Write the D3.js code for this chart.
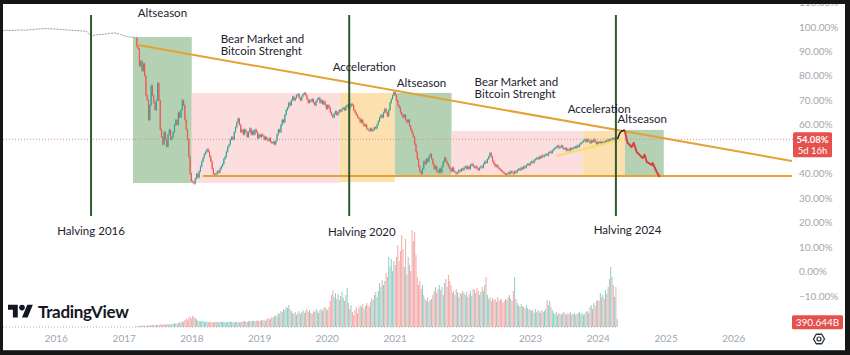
<!DOCTYPE html>
<html><head><meta charset="utf-8">
<script src="https://cdn.jsdelivr.net/npm/d3@7"></script>
<style>
html,body{margin:0;padding:0;background:#161616;}
svg{display:block;}
text{font-family:Lato,"Noto Sans",sans-serif;}
</style></head><body>
<svg id="c" width="850" height="355"></svg>
<script>
// ---------------- DATA ----------------
// early (pre-2017) dominance line
const earlyDates = ["2015-03-20","2015-04-15","2015-05-15","2015-06-15","2015-07-15","2015-08-15","2015-09-15","2015-10-15","2015-11-15","2015-12-15","2016-01-15","2016-02-15","2016-03-15","2016-04-15","2016-05-15","2016-06-15","2016-07-09","2016-08-15","2016-09-15","2016-10-15","2016-11-15","2016-12-15","2017-01-15","2017-02-15","2017-03-06"];
const earlyValues = [98.4,98.6,98.5,98.7,98.6,98.8,99.0,99.2,99.3,99.1,99.0,98.8,98.6,98.5,98.3,98.2,96.3,96.8,96.9,97.3,97.5,96.9,96.0,95.8,95.5];

// weekly candles, starting week
const candleStart = "2017-03-13";
const closes2017 = [92,91,84,86,82,85,80,72,70,62,68,76,72,69,66,70,77,70,58,55,52,57,54,51,56,58,54,55,57,60,62,60,65,63,66,70,68,62,58,54,47,40,37,36.5];
const closes2018 = [36,38,40,38.5,41,43,45,46.5,48,49,50,49,47,45,42,40,39.5,40,41,40.5,42,43,44,46,47,49,51,52,54,55,54,57,59,61,62.5,60,57,58,56,58,57,55,57,58.5,56,57.5,56,58,57,54.5,56,55,56];
const closes2019 = [55.5,54,55,54,53.5,54.5,53,52.5,53,52,53.5,56,58,57,60,62,61,64,66,67,69,68,70,71.5,70,71,72,72.5,71,70,71.5,72.5,73,72,70.5,69,70,69.5,70.5,69,68,69.5,70.5,71,69,70,68.5,69.5,68,66.5,68];
const closes2020 = [67,65,64,63,64.5,65.5,64,65,66,65.5,66.5,67,66,67.5,68,66.5,67.5,68.5,68,66,65,64,63,62.5,61,62,60.5,59.5,60,58.5,58,57.5,58.5,57.5,58,59,58.5,60,61.5,63,64,63,65,66.5,65,63.5,66,69,70.5,72,73.5,72];
const closes2021 = [70,68,67,65,64,63,64,62,61,62,59.5,58,56.5,55,52,49,46,43,41,40,42,45,44,46,45,47,48,46,44,42,43,41,40.5,42,40.5,43,45,46.5,45,44,43,42,41,42.5,41,40.5,40,40.5,41.5,41,42,41.5];
const closes2022 = [42.5,43,42,43,42,43.5,44,43,42.5,43,42,41.5,42.5,43,42.5,44,45,44.5,46,47,48.5,47,45,44,43,43.5,42.5,42,41.5,41,40.5,40,39.5,40,40.5,40,41,40.5,40,41,40.5,41.5,42,41.5,42.5,42,43,42.5,43.5,44,43.5,44.5];
const closes2023 = [45,44.5,45.5,46,46.5,46,47,46.5,47.5,47,47.5,48,47.5,48.5,49,48.5,49.5,50,50.5,51,51.5,50.5,51,51.5,50.5,50,50.5,49.5,50,49.5,50.5,50,50.5,51,50.5,51.5,51,52,52.5,53,53.5,54,53,54,53.5,52.5,53.5,53,54,53,52,53];
const closes2024 = [52.5,53,52,53,52.5,53.5,53,54,53.5,54,54.5,54,54.5,54,54.08];

// weekly volume (billions)
const vol2017 = [40,45,50,60,55,70,60,75,80,70,85,90,110,95,90,120,100,95,130,120,110,140,135,120,150,140,130,160,150,190,170,160,200,240,210,300,260,350,420,330,480,520,430,560];
const vol2018 = [500,440,380,330,300,280,310,290,260,250,270,240,260,250,230,240,250,260,240,230,250,270,260,240,250,230,240,260,280,250,240,230,250,260,240,230,250,260,280,300,270,260,290,310,280,300,320,290,310,330,300,320,340];
const vol2019 = [320,360,300,400,450,380,420,500,460,550,600,520,700,650,800,750,900,850,1000,950,1100,900,800,700,650,750,600,700,800,650,750,850,700,800,900,750,850,700,650,800,750,900,800,700,850,900,800,950,1000,900,850];
const vol2020 = [1000,1300,1600,1850,1500,1700,1400,1650,1350,1550,1750,1450,1300,1600,1950,1200,900,1100,750,600,850,1000,700,950,1100,1000,1150,900,1050,1200,1100,1000,1250,1450,1350,1600,1750,1500,1800,2200,2000,2350,2100,2300,2700,2500,3500,3000,3400,2800,3300,3100];
const vol2021 = [3500,4100,3300,3800,4600,3900,3000,4400,2600,3500,3100,2800,4850,4300,4750,3600,2500,2100,2300,1900,2100,1600,1400,1300,1500,1250,1350,1400,1600,1800,2000,1700,1900,2100,1850,2000,1600,2200,2400,2000,2600,2300,2100,1700,1800,1600,1900,1750,1500,1700,1650,1800];
const vol2022 = [1700,1600,1750,1500,1650,1800,1550,1900,1850,1700,1950,1800,1600,1750,2000,1800,2100,2500,1600,1400,1500,1300,1450,1350,1400,1250,1500,1300,1400,1350,1200,1300,1400,1350,1500,1600,1400,1300,1800,2500,1400,1200,1100,1000,1150,1050,1000,900,1100,950,850,900];
const vol2023 = [800,850,700,900,750,850,800,700,850,750,800,900,1350,1100,1300,1000,850,700,650,750,600,700,650,600,700,750,650,600,700,650,750,600,650,700,600,650,700,750,650,700,600,650,750,800,700,1000,1100,900,1200,1050,1300,1350];
const vol2024 = [1300,1700,1500,1600,1400,1850,1650,2000,2400,3000,2500,2100,1500,2000,390.644];

// zones
const zoneKind  = ["alt","bear","accel","alt","bear","accel","alt"];
const zoneStart = ["2017-02-20","2018-01-03","2020-03-11","2021-01-02","2021-11-04","2023-10-12","2024-05-26"];
const zoneEnd   = ["2018-01-03","2020-03-11","2021-01-02","2021-11-04","2023-10-12","2024-05-26","2024-12-22"];
const zoneTop   = [95.8,73.0,73.0,73.0,57.5,57.5,57.9];
const zoneBottom= [36.2,36.2,36.6,39.5,38.7,38.7,39.1];

// drawn lines
const resistDates = ["2017-03-18","2026-11-13"], resistValues = [92.6,45.2];
const supportDates = ["2018-03-04","2026-11-13"], supportValues = [39.1,39.1];
const wedgeDates = ["2023-05-22","2024-05-12"], wedgeValues = [47.2,54.1];
const projDates = ["2024-05-26","2024-06-10","2024-07-02","2024-07-13","2024-07-29","2024-08-14","2024-08-30","2024-09-10","2024-09-21","2024-10-18","2024-10-23","2024-11-14","2024-11-30"];
const projValues = [57.4,52.6,50.9,52.6,48.9,47.7,46.4,47.7,44.8,43.6,44.4,40.7,38.7];
const arrowDates = ["2024-04-17","2024-05-03","2024-05-26"], arrowValues = [54.2,57.0,57.9];

// halvings (as drawn on the chart)
const halvingDates = ["2016-07-09","2020-05-01","2024-04-08"];
const halvingLabels = ["Halving 2016","Halving 2020","Halving 2024"];
const halvingLabelDates = ["2016-07-09","2020-07-08","2024-06-10"];
const halvingLabelValues = [15.0,14.6,15.4];

// annotations (multi-line notes separated by "|")
const noteText  = ["Altseason","Bear Market and|Bitcoin Strenght","Acceleration","Altseason","Bear Market and|Bitcoin Strenght","Acceleration","Altseason"];
const noteDates = ["2017-03-18","2018-06-08","2020-02-02","2021-01-13","2022-03-08","2023-07-23","2024-04-17"];
const noteValues= [104.0,93.4,81.9,75.4,75.8,64.8,60.7];

// axes
const priceTicks = [-10,0,10,20,30,40,60,70,80,90,100,110];
const yearTicks = [2016,2017,2018,2019,2020,2021,2022,2023,2024,2025,2026];
const lastPrice = 54.08, countdown = "5d 16h", lastVolume = "390.644B";

// ---------------- CHART ----------------
const parse = d3.utcParse("%Y-%m-%d");
const svg = d3.select("#c");
const W = 850, H = 355;
const plotL = 3, plotR = 795, plotT = 4, plotB = 350;

const x = d3.scaleUtc().domain([new Date(Date.UTC(2016,0,1)), new Date(Date.UTC(2026,0,1))]).range([55.8, 733.3]);
const y = d3.scaleLinear().domain([0,100]).range([271.7, 26.8]);
const yv = d3.scaleLinear().domain([0,5000]).range([327, 227]);

svg.append("rect").attr("width",W).attr("height",H).attr("fill","#161616");
svg.append("rect").attr("x",plotL).attr("y",plotT).attr("width",845-plotL).attr("height",plotB-plotT).attr("fill","#ffffff");

svg.append("clipPath").attr("id","clip").append("rect")
  .attr("x",plotL).attr("y",plotT).attr("width",plotR-plotL).attr("height",plotB-plotT);
const g = svg.append("g").attr("clip-path","url(#clip)");

const zoneColor = {alt:"#b5d1b3", bear:"#fcdede", accel:"#fde0b0"};
g.selectAll("rect.zone").data(zoneKind.map((k,i)=>({k,s:parse(zoneStart[i]),e:parse(zoneEnd[i]),t:zoneTop[i],b:zoneBottom[i]})))
  .join("rect").attr("class","zone")
  .attr("x",d=>x(d.s)).attr("width",d=>x(d.e)-x(d.s))
  .attr("y",d=>y(d.t)).attr("height",d=>y(d.b)-y(d.t))
  .attr("fill",d=>zoneColor[d.k]);

// current price dotted line
g.append("line").attr("x1",plotL).attr("x2",plotR).attr("y1",y(lastPrice)).attr("y2",y(lastPrice))
  .attr("stroke","#d98c8c").attr("stroke-width",1).attr("stroke-dasharray","1,2");

// candles data
const closes = [].concat(closes2017,closes2018,closes2019,closes2020,closes2021,closes2022,closes2023,closes2024);
const vols = [].concat(vol2017,vol2018,vol2019,vol2020,vol2021,vol2022,vol2023,vol2024);
const start = parse(candleStart);
const candles = closes.map((c,i)=>{
  const o = i===0 ? earlyValues[earlyValues.length-1] : closes[i-1];
  return {d:d3.utcDay.offset(start,7*i), o, c, v:vols[i]};
});

// volume baseline
g.append("line").attr("x1",plotL).attr("x2",x(candles[candles.length-1].d)).attr("y1",yv(0)).attr("y2",yv(0))
  .attr("stroke","#b0b0b0").attr("stroke-dasharray","1,2");

g.selectAll("rect.vol").data(candles).join("rect").attr("class","vol")
  .attr("x",d=>x(d.d)-0.5).attr("width",1)
  .attr("y",d=>yv(d.v)).attr("height",d=>yv(0)-yv(d.v))
  .attr("fill",d=>d.c>=d.o?"#8fcfc8":"#f2a9a7");

// early line
const early = earlyDates.map((d,i)=>({d:parse(d),v:earlyValues[i]}));
g.append("path").datum(early)
  .attr("d",d3.line().x(d=>x(d.d)).y(d=>y(d.v)))
  .attr("fill","none").attr("stroke","#9a9a9a")
  .attr("stroke-width",1).attr("stroke-dasharray","2,1");

// candles
g.selectAll("line.wick").data(candles).join("line").attr("class","wick")
  .attr("x1",d=>x(d.d)).attr("x2",d=>x(d.d))
  .attr("y1",d=>y(Math.max(d.o,d.c))-1).attr("y2",d=>y(Math.min(d.o,d.c))+1)
  .attr("stroke",d=>d.c>=d.o?"#26a69a":"#ef5350").attr("stroke-width",0.6);
g.selectAll("rect.body").data(candles).join("rect").attr("class","body")
  .attr("x",d=>x(d.d)-0.55).attr("width",1.1)
  .attr("y",d=>y(Math.max(d.o,d.c)))
  .attr("height",d=>Math.max(0.8, Math.abs(y(d.o)-y(d.c))))
  .attr("fill",d=>d.c>=d.o?"#26a69a":"#ef5350");

// drawn lines
const ln = d3.line().x(d=>x(d.d)).y(d=>y(d.v));
const mk = (ds,vs)=>ds.map((d,i)=>({d:parse(d),v:vs[i]}));
g.append("path").datum(mk(wedgeDates,wedgeValues)).attr("d",ln)
  .attr("fill","none").attr("stroke","#f3df6e").attr("stroke-width",2.2);
g.append("path").datum(mk(resistDates,resistValues)).attr("d",ln)
  .attr("fill","none").attr("stroke","#e5a132").attr("stroke-width",2);
g.append("path").datum(mk(supportDates,supportValues)).attr("d",ln)
  .attr("fill","none").attr("stroke","#e5a132").attr("stroke-width",2);
g.append("path").datum(mk(projDates,projValues)).attr("d",ln)
  .attr("fill","none").attr("stroke","#d8403c").attr("stroke-width",2).attr("stroke-linejoin","round");
g.append("path").datum(mk(arrowDates,arrowValues))
  .attr("d",d3.line().x(d=>x(d.d)).y(d=>y(d.v)).curve(d3.curveNatural))
  .attr("fill","none").attr("stroke","#1a1a1a").attr("stroke-width",1.5);

// halving lines
g.selectAll("line.halv").data(halvingDates.map(parse)).join("line").attr("class","halv")
  .attr("x1",d=>x(d)).attr("x2",d=>x(d)).attr("y1",15).attr("y2",216)
  .attr("stroke","#2e5b2c").attr("stroke-width",2);

// annotations
const notes = g.selectAll("text.note").data(noteText.map((t,i)=>({t,d:parse(noteDates[i]),v:noteValues[i]})))
  .join("text").attr("class","note")
  .attr("x",d=>x(d.d)).attr("y",d=>y(d.v))
  .attr("font-size",11.5).attr("fill","#1e222d");
notes.selectAll("tspan").data(d=>d.t.split("|").map(s=>({s,xx:x(d.d)})))
  .join("tspan").attr("x",d=>d.xx).attr("dy",(d,i)=>i===0?0:12).text(d=>d.s);
g.selectAll("text.halvl").data(halvingLabels.map((t,i)=>({t,d:parse(halvingLabelDates[i]),v:halvingLabelValues[i]})))
  .join("text").attr("class","halvl")
  .attr("x",d=>x(d.d)).attr("y",d=>y(d.v)).attr("text-anchor","middle")
  .attr("font-size",11.5).attr("fill","#1e222d").text(d=>d.t);

// price axis
const fmt = d3.format(".2f");
const ya = svg.append("g").attr("transform","translate(799,0)")
  .call(d3.axisRight(y).tickValues(priceTicks).tickSize(0).tickPadding(0).tickFormat(d=>fmt(d)+"%"));
ya.select(".domain").remove();
ya.selectAll("text").attr("font-size",10).attr("fill","#a3a6ae").attr("font-family","Lato,sans-serif");

// time axis
const xa = svg.append("g").attr("transform","translate(0,335)")
  .call(d3.axisBottom(x).tickValues(yearTicks.map(yr=>new Date(Date.UTC(yr,0,1)))).tickSize(0).tickPadding(0).tickFormat(d3.utcFormat("%Y")));
xa.select(".domain").remove();
xa.selectAll("text").attr("font-size",10).attr("fill","#a3a6ae").attr("font-family","Lato,sans-serif");

// last price label (two lines in one text element)
const py = y(lastPrice);
svg.append("rect").attr("x",793).attr("y",py-7).attr("width",39).attr("height",25).attr("rx",1.5).attr("fill","#e5514e");
const pl = svg.append("text").attr("x",812.5).attr("y",py+3.5).attr("text-anchor","middle").attr("font-size",9.5).attr("fill","#fff");
pl.append("tspan").attr("x",812.5).attr("font-weight",700).text(fmt(lastPrice)+"%");
pl.append("tspan").attr("x",812.5).attr("dy",11).text(countdown);

// last volume label
const lv = candles[candles.length-1].v;
svg.append("rect").attr("x",792).attr("y",yv(lv)-4).attr("width",51).attr("height",14).attr("rx",1.5).attr("fill","#e5514e");
svg.append("text").attr("x",817.5).attr("y",yv(lv)+6.5).attr("text-anchor","middle").attr("font-size",10).attr("fill","#fff").text(lastVolume);

// TradingView logo
const logo = svg.append("g").attr("transform","translate(8,302) scale(0.7)").attr("fill","#131722");
logo.append("path").attr("d","M14 22H7V11H0V4h14v18z");
logo.append("circle").attr("cx",20).attr("cy",8).attr("r",4);
logo.append("path").attr("d","M28 22h-8l7.5-18h8L28 22z");
svg.append("text").attr("x",38).attr("y",317.5).attr("font-size",17).attr("font-weight",700).attr("fill","#131722").attr("letter-spacing","-0.3").text("TradingView");

// settings icon
const sx = 819, sy = 339;
const hex = d3.range(6).map(i=>[sx+5.5*Math.cos(Math.PI/3*i), sy+5.5*Math.sin(Math.PI/3*i)]);
svg.append("path").attr("d","M"+hex.join("L")+"Z").attr("fill","none").attr("stroke","#2a2e39").attr("stroke-width",1.3).attr("stroke-linejoin","round");
svg.append("circle").attr("cx",sx).attr("cy",sy).attr("r",2).attr("fill","none").attr("stroke","#2a2e39").attr("stroke-width",1.2);

// frame
svg.append("rect").attr("x",0).attr("y",0).attr("width",W).attr("height",plotT).attr("fill","#161616");
svg.append("rect").attr("x",0).attr("y",plotB).attr("width",W).attr("height",H-plotB).attr("fill","#161616");
svg.append("line").attr("x1",plotL).attr("x2",845).attr("y1",plotB+0.5).attr("y2",plotB+0.5).attr("stroke","#3a4a55");
svg.append("rect").attr("x",0).attr("y",0).attr("width",plotL).attr("height",H).attr("fill","#161616");
svg.append("rect").attr("x",845).attr("y",0).attr("width",W-845).attr("height",H).attr("fill","#161616");
</script>
</body></html>
